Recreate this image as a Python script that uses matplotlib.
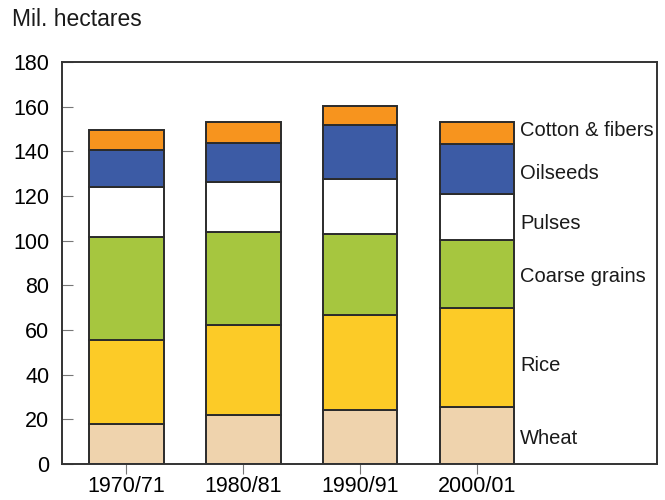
import matplotlib.pyplot as plt
import numpy as np

plt.rcParams['font.family'] = ['Liberation Sans', 'DejaVu Sans']

years = ['1970/71', '1980/81', '1990/91', '2000/01']
crops = ['Wheat', 'Rice', 'Coarse grains', 'Pulses', 'Oilseeds', 'Cotton & fibers']
wheat = [18.0, 22.0, 24.2, 25.5]
rice = [37.5, 40.2, 42.5, 44.4]
coarse = [46.0, 41.8, 36.3, 30.4]
pulses = [22.5, 22.3, 24.6, 20.7]
oilseeds = [16.5, 17.5, 24.2, 22.3]
cotton = [9.0, 9.2, 8.5, 9.7]
label_y = [11.5, 44, 84, 107.5, 130, 149.5]
yticks = [0, 20, 40, 60, 80, 100, 120, 140, 160, 180]

colors = ['#EFD3AD', '#FCCB27', '#A6C63F', '#FFFFFF', '#3C5BA5', '#F7941E']
series = [wheat, rice, coarse, pulses, oilseeds, cotton]

fig = plt.figure(figsize=(6.65, 5), dpi=100)
ax = fig.add_axes([0.0932, 0.072, 0.8948, 0.804])

x = np.arange(len(years))
bottom = np.zeros(len(years))
for vals, c in zip(series, colors):
    ax.bar(x, vals, bottom=bottom, width=0.64, color=c, edgecolor='#2b2b2b', linewidth=1.4)
    bottom += np.array(vals)

for name, yy in zip(crops, label_y):
    ax.text(3.37, yy, name, fontsize=14.5, va='center', ha='left', color='#1a1a1a')

ax.set_xlim(-0.55, 4.54)
ax.set_ylim(0, 180)
ax.set_yticks(yticks)
ax.set_xticks(x)
ax.set_xticklabels(years)
ax.tick_params(axis='y', direction='in', length=8, color='#777777', labelsize=15.5, pad=9)
ax.tick_params(axis='x', direction='out', length=7, color='#777777', labelsize=15.5, pad=2)
for s in ax.spines.values():
    s.set_color('#333333')
    s.set_linewidth(1.4)

fig.text(0.018, 0.96, 'Mil. hectares', fontsize=16.5, va='center', ha='left', color='#1a1a1a')

fig.savefig('out.png', dpi=100)
